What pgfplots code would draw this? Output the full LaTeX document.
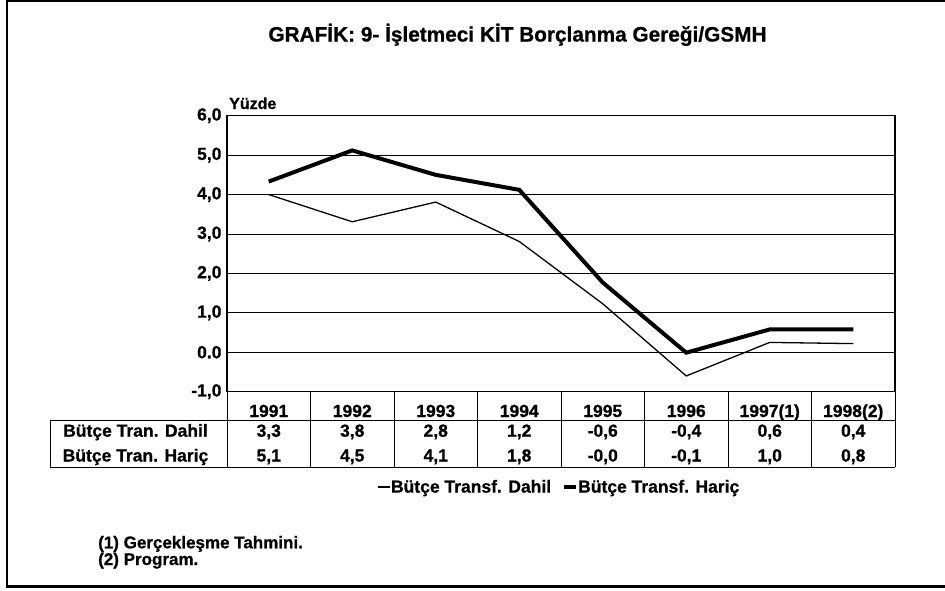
\documentclass[border=0pt]{standalone}
\usepackage{pgfplots}
\pgfplotsset{compat=1.18}
\usepackage{fontspec}
\setmainfont{Liberation Sans}[BoldFeatures={FakeBold=0.8}]
\newcommand\fs[1]{\fontsize{#1}{#1}\selectfont\bfseries}

\begin{document}
\begin{tikzpicture}
\path[use as bounding box] (0pt,0pt) rectangle (945pt,-590pt);
\begin{axis}[
  at={(227pt,-391.7pt)}, anchor=south west,
  width=668pt, height=276pt, scale only axis,
  xmin=0.5, xmax=8.5, ymin=-1, ymax=6,
  xtick={1,...,8},
  xticklabels={1991,1992,1993,1994,1995,1996,{1997(1)},{1998(2)}},
  xticklabel style={font=\fs{17.5}, anchor=base, yshift=-25.3pt},
  ytick={-1,0,...,6},
  yticklabels={{-1,0},{0.0},{1,0},{2,0},{3,0},{4,0},{5,0},{6,0}},
  yticklabel style={font=\fs{17.5}, anchor=east, xshift=-2pt},
  major tick length=0pt,
  ymajorgrids, grid style={black, line width=0.8pt},
  axis line style={black, line width=1.3pt},
  legend columns=2,
  legend style={at={(rel axis cs:0.2246,-0.3453)}, anchor=west, draw=none, fill=none,
    font=\fs{17.5}, inner sep=0pt, nodes={inner sep=0.5pt},
    /tikz/every even column/.append style={column sep=10pt}},
  legend image code/.code={\draw[#1] (0pt,0pt) -- (12pt,0pt);},
]
\addplot[black, line width=1.3pt] coordinates {
  (1,4.00) (2,3.31) (3,3.81) (4,2.81) (5,1.23) (6,-0.60) (7,0.25) (8,0.22)};
\addplot[black, line width=4pt] coordinates {
  (1,4.33) (2,5.12) (3,4.50) (4,4.12) (5,1.77) (6,-0.01) (7,0.58) (8,0.58)};
\legend{Bütçe Transf. Dahil, Bütçe Transf. Hariç}
\end{axis}

\begin{scope}[x=1pt,y=-1pt]
  % outer frame
  \draw[line width=2pt] (7,0) -- (7,587);
  \draw[line width=2pt] (6,1) -- (945,1);
  \draw[line width=3pt] (6,586.5) -- (945,586.5);
  % title
  \node[anchor=base, font=\fs{20.8}] at (517.5,41.5) {GRAFİK: 9- İşletmeci KİT Borçlanma Gereği/GSMH};
  \node[anchor=base west, font=\fs{16}, inner sep=0pt] at (229,109) {Yüzde};
  % table lines
  \foreach \k in {0,...,8} {\draw[line width=1pt] ({227+83.5*\k},391.7) -- ({227+83.5*\k},467);}
  \draw[line width=1pt] (50,420) -- (895,420);
  \draw[line width=1pt] (50,467) -- (895,467);
  \draw[line width=1pt] (50,420) -- (50,467);
  % row labels
  \node[anchor=base, font=\fs{17.5}, inner sep=0pt] at (135.5,436.7) {Bütçe Tran. Dahil};
  \node[anchor=base, font=\fs{17.5}, inner sep=0pt] at (135.5,461.5) {Bütçe Tran. Hariç};
  \foreach \v [count=\i from 0] in {{3,3},{3,8},{2,8},{1,2},{-0,6},{-0,4},{0,6},{0,4}}
    \node[anchor=base, font=\fs{17.5}, inner sep=0pt] at ({268.75+83.5*\i},436.7) {\v};
  \foreach \v [count=\i from 0] in {{5,1},{4,5},{4,1},{1,8},{-0,0},{-0,1},{1,0},{0,8}}
    \node[anchor=base, font=\fs{17.5}, inner sep=0pt] at ({268.75+83.5*\i},461.5) {\v};
  % footnotes
  \node[anchor=base west, font=\fs{17}, inner sep=0pt] at (98,548.3) {(1) Gerçekleşme Tahmini.};
  \node[anchor=base west, font=\fs{17}, inner sep=0pt] at (98,565) {(2) Program.};
\end{scope}
\end{tikzpicture}
\end{document}
